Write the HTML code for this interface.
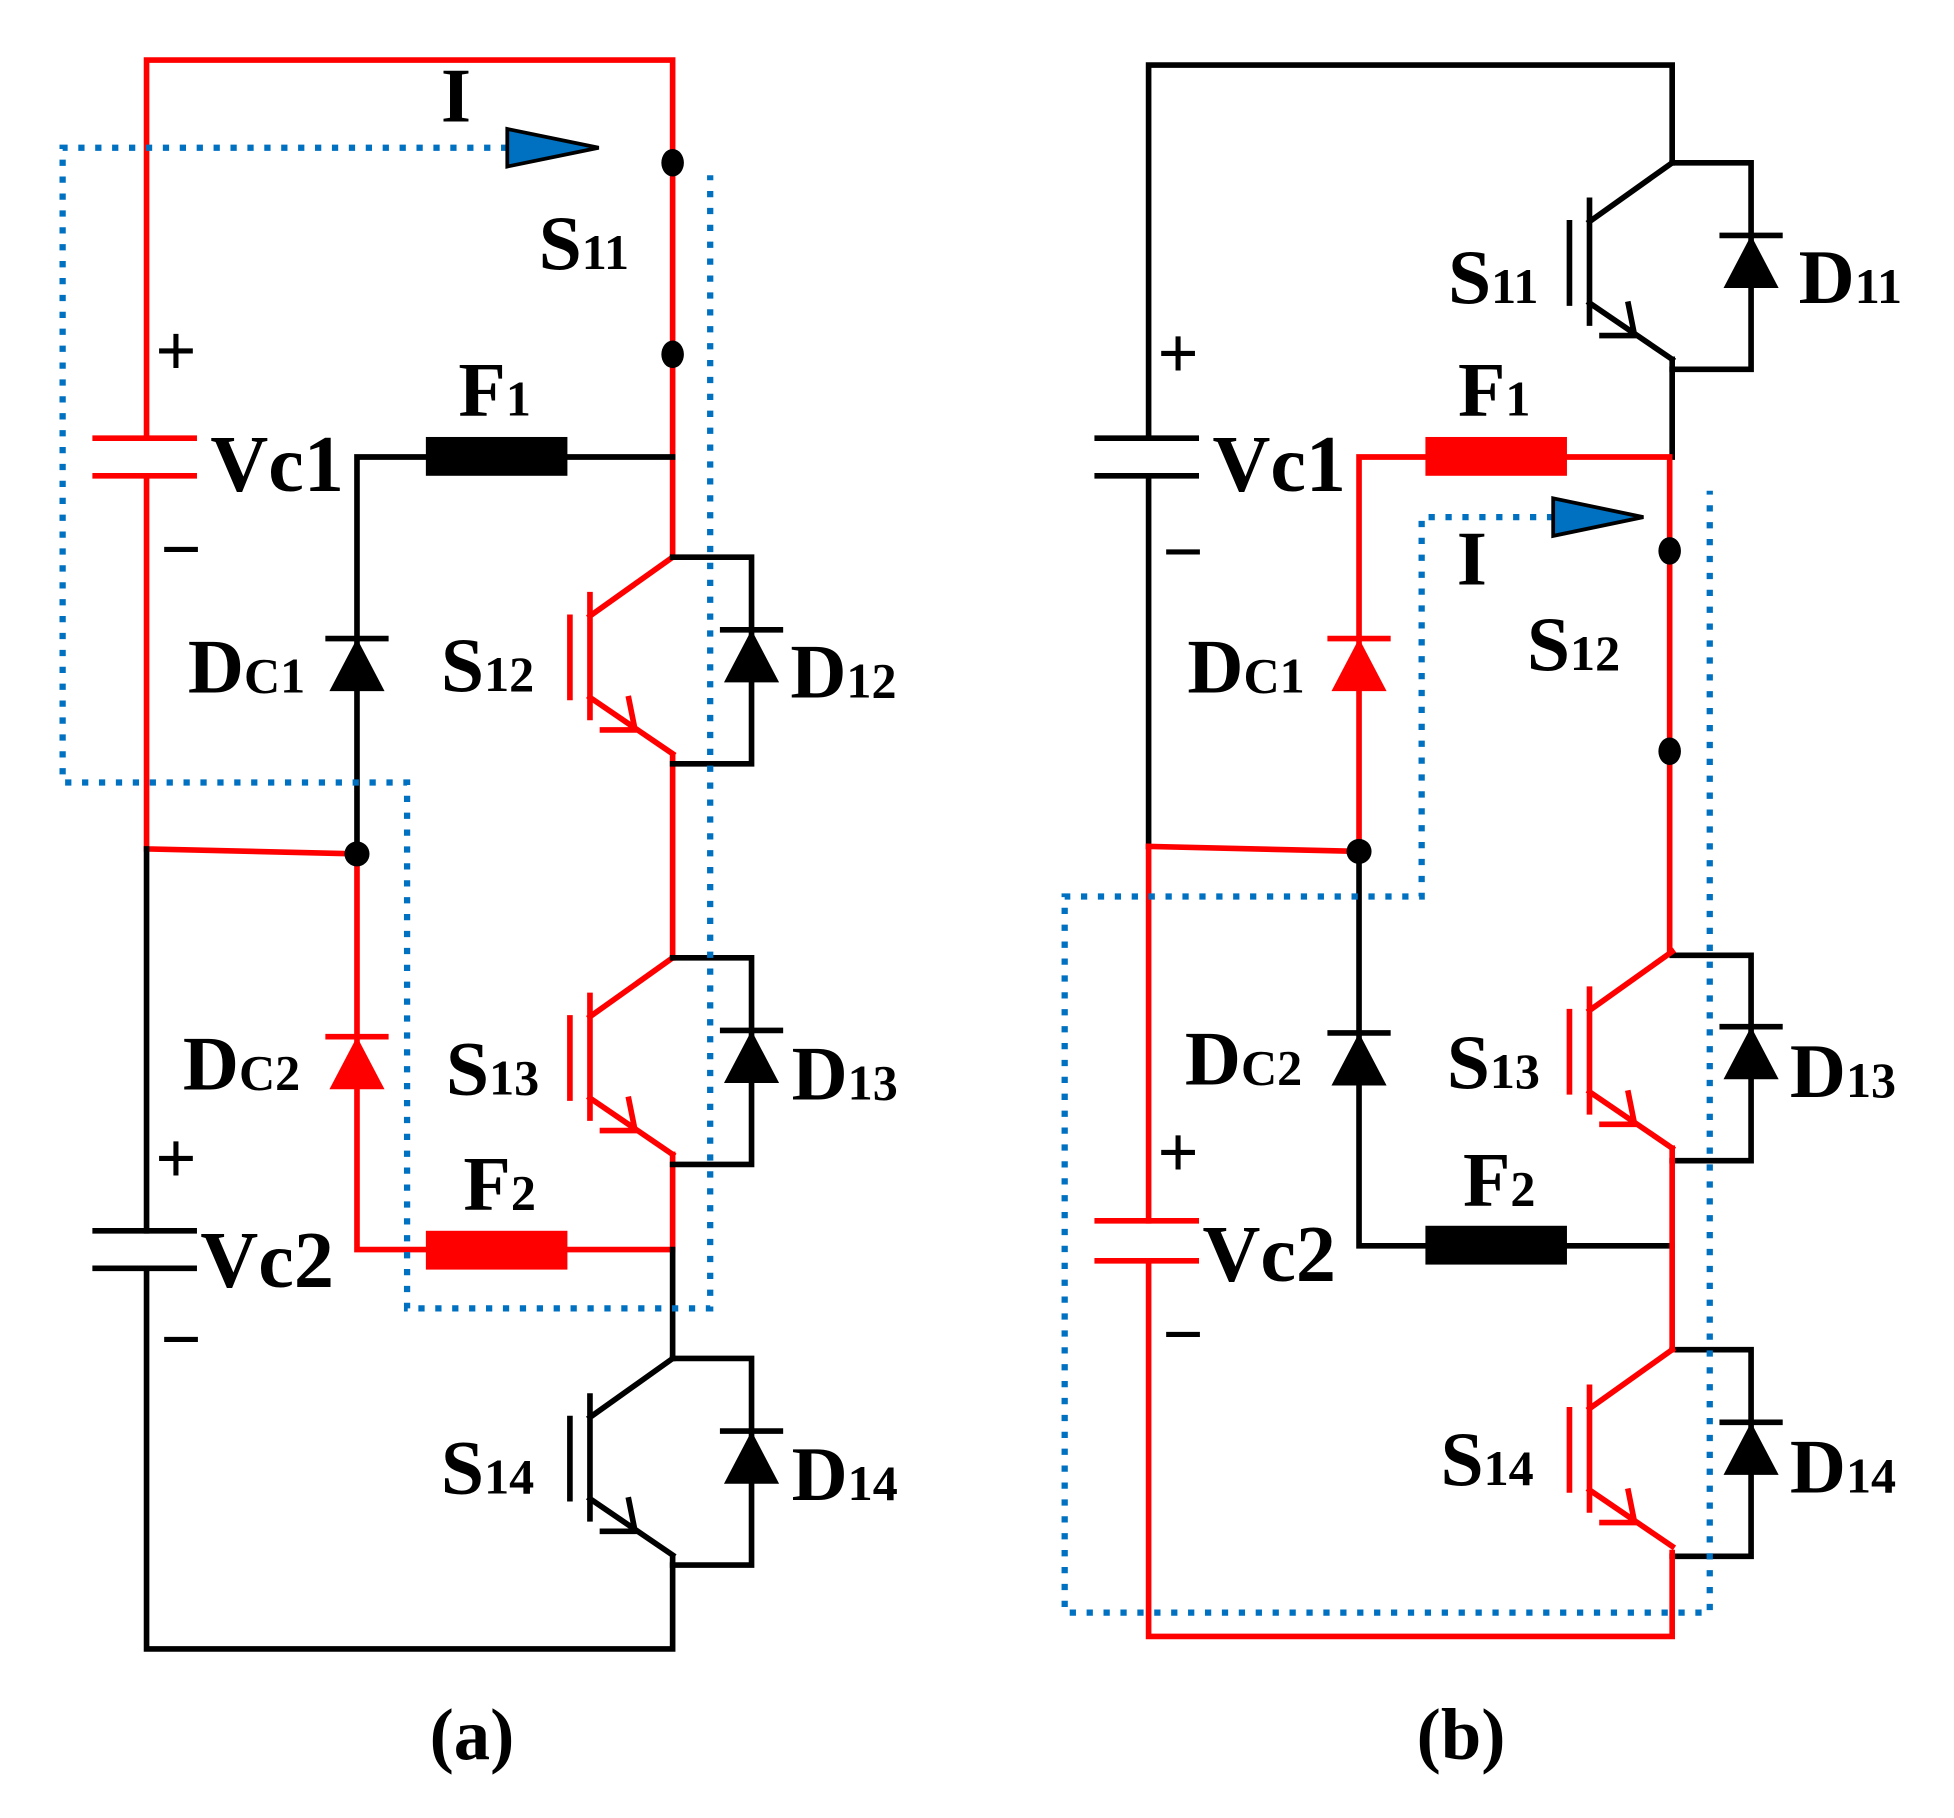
<!DOCTYPE html>
<html><head><meta charset="utf-8"><style>
html,body{margin:0;padding:0;background:#fff;}
svg{display:block;}
text{font-family:"Liberation Serif",serif;font-weight:bold;fill:#000;}
</style></head><body>
<svg width="1954" height="1818" viewBox="0 0 1560 1452" preserveAspectRatio="none" xmlns="http://www.w3.org/2000/svg">
<defs>
<g id="igbt" fill="none" stroke-width="4.5">
  <path d="M0,0 L-66,47 M-66,30 V128 M-82,48 V112 M-66,112 L0,157 M-56,138 L-30,138 L-35,113"/>
</g>
</defs>

<!-- ================= PANEL (a) ================= -->
<g stroke-linecap="square">
<g stroke="#ff0000" stroke-width="4.5" fill="none">
  <path d="M117,350 V48 H537 V445"/>
  <path d="M117,380 V678 L285,682"/>
  <path d="M76,350 H155 M76,380 H155"/>
  <path d="M285,682 V998 H537 M537,605 V765"/>
  <use href="#igbt" x="537" y="445" stroke="#ff0000"/>
  <use href="#igbt" x="537" y="765" stroke="#ff0000"/>
  <path d="M537,922 V998"/>
</g>
<g stroke="#000" stroke-width="4.5" fill="none">
  <path d="M117,678 V983 M117,1013 V1317 H537 V1245"/>
  <path d="M76,983 H155 M76,1013 H155"/>
  <path d="M285,682 V365 H537"/>
  <path d="M537,998 V1085"/>
  <use href="#igbt" x="537" y="1085" stroke="#000"/>
  <path d="M537,445 H600 V610 H537"/>
  <path d="M537,765 H600 V930 H537"/>
  <path d="M537,1085 H600 V1250 H537"/>
  <path d="M577,503 H623 M577,823 H623 M577,1143 H623 M262,510 H308"/>
  <path d="M262,828 H308" stroke="#ff0000"/>
</g>
</g>
<g stroke="none">
  <path d="M600,503 L578,545 L622,545 Z" fill="#000"/>
  <path d="M600,823 L578,865 L622,865 Z" fill="#000"/>
  <path d="M600,1143 L578,1185 L622,1185 Z" fill="#000"/>
  <path d="M285,510 L263,552 L307,552 Z" fill="#000"/>
  <path d="M285,828 L263,870 L307,870 Z" fill="#ff0000"/>
  <rect x="340" y="349" width="113" height="31" fill="#000"/>
  <rect x="340" y="983" width="113" height="31" fill="#ff0000"/>
  <ellipse cx="537" cy="130" rx="9" ry="11" fill="#000"/>
  <ellipse cx="537" cy="283" rx="9" ry="11" fill="#000"/>
  <ellipse cx="285" cy="682" rx="10" ry="10" fill="#000"/>
</g>
<path d="M405,118 H50 V625 H325 V1045 H567 V140" fill="none" stroke="#0070c0" stroke-width="5" stroke-dasharray="5 8.5"/>
<path d="M405,103 L478,118 L405,133 Z" fill="#0070c0" stroke="#000" stroke-width="3"/>

<text x="352" y="97" font-size="62">I</text>
<text x="430" y="215" font-size="62">S<tspan font-size="40">11</tspan></text>
<text x="366" y="332" font-size="62">F<tspan font-size="40">1</tspan></text>
<text x="124" y="300" font-size="58">+</text>
<text x="128" y="458" font-size="58">−</text>
<text x="168" y="392" font-size="64">Vc1</text>
<text x="150" y="553" font-size="62">D<tspan font-size="40">C1</tspan></text>
<text x="352" y="552" font-size="62">S<tspan font-size="40">12</tspan></text>
<text x="631" y="557" font-size="62">D<tspan font-size="40">12</tspan></text>
<text x="146" y="870" font-size="62">D<tspan font-size="40">C2</tspan></text>
<text x="356" y="874" font-size="62">S<tspan font-size="40">13</tspan></text>
<text x="632" y="878" font-size="62">D<tspan font-size="40">13</tspan></text>
<text x="370" y="966" font-size="62">F<tspan font-size="40">2</tspan></text>
<text x="124" y="945" font-size="58">+</text>
<text x="160" y="1028" font-size="64">Vc2</text>
<text x="128" y="1089" font-size="58">−</text>
<text x="352" y="1193" font-size="62">S<tspan font-size="40">14</tspan></text>
<text x="632" y="1198" font-size="62">D<tspan font-size="40">14</tspan></text>
<text x="343" y="1405" font-size="58" font-weight="normal">(<tspan font-weight="bold">a</tspan>)</text>

<!-- ================= PANEL (b) ================= -->
<g stroke-linecap="square">
<g stroke="#000" stroke-width="4.5" fill="none">
  <path d="M917,350 V52 H1335 V130"/>
  <path d="M917,380 V676"/>
  <path d="M876,350 H955 M876,380 H955"/>
  <use href="#igbt" x="1335" y="130" stroke="#000"/>
  <path d="M1335,287 V365"/>
  <path d="M1335,130 H1398 V295 H1335"/>
  <path d="M1335,763 H1398 V927 H1335"/>
  <path d="M1335,1078 H1398 V1243 H1335"/>
  <path d="M1085,680 V995 H1335"/>
  <path d="M1375,188 H1421 M1375,820 H1421 M1375,1136 H1421 M1062,825 H1108"/>
</g>
<g stroke="#ff0000" stroke-width="4.5" fill="none">
  <path d="M1085,680 V365 H1333 V760"/>
  <path d="M917,676 L1085,680"/>
  <path d="M917,676 V975 M917,1007 V1307 H1335 V1240"/>
  <path d="M876,975 H955 M876,1007 H955"/>
  <use href="#igbt" x="1335" y="760" stroke="#ff0000"/>
  <path d="M1335,917 V1078"/>
  <use href="#igbt" x="1335" y="1078" stroke="#ff0000"/>
  <path d="M1062,510 H1108"/>
</g>
</g>
<g stroke="none">
  <path d="M1398,188 L1376,230 L1420,230 Z" fill="#000"/>
  <path d="M1398,820 L1376,862 L1420,862 Z" fill="#000"/>
  <path d="M1398,1136 L1376,1178 L1420,1178 Z" fill="#000"/>
  <path d="M1085,825 L1063,867 L1107,867 Z" fill="#000"/>
  <path d="M1085,510 L1063,552 L1107,552 Z" fill="#ff0000"/>
  <rect x="1138" y="349" width="113" height="31" fill="#ff0000"/>
  <rect x="1138" y="979" width="113" height="31" fill="#000"/>
  <ellipse cx="1333" cy="440" rx="9" ry="11" fill="#000"/>
  <ellipse cx="1333" cy="600" rx="9" ry="11" fill="#000"/>
  <ellipse cx="1085" cy="680" rx="10" ry="10" fill="#000"/>
</g>
<path d="M1240,413 H1135 V716 H850 V1288 H1365 V392" fill="none" stroke="#0070c0" stroke-width="5" stroke-dasharray="5 8.5"/>
<path d="M1240,398 L1312,413 L1240,428 Z" fill="#0070c0" stroke="#000" stroke-width="3"/>

<text x="1156" y="242" font-size="62">S<tspan font-size="40">11</tspan></text>
<text x="1436" y="242" font-size="62">D<tspan font-size="40">11</tspan></text>
<text x="1164" y="332" font-size="62">F<tspan font-size="40">1</tspan></text>
<text x="924" y="302" font-size="58">+</text>
<text x="928" y="460" font-size="58">−</text>
<text x="968" y="392" font-size="64">Vc1</text>
<text x="1163" y="467" font-size="62">I</text>
<text x="1219" y="535" font-size="62">S<tspan font-size="40">12</tspan></text>
<text x="948" y="553" font-size="62">D<tspan font-size="40">C1</tspan></text>
<text x="946" y="866" font-size="62">D<tspan font-size="40">C2</tspan></text>
<text x="1155" y="869" font-size="62">S<tspan font-size="40">13</tspan></text>
<text x="1429" y="876" font-size="62">D<tspan font-size="40">13</tspan></text>
<text x="1168" y="963" font-size="62">F<tspan font-size="40">2</tspan></text>
<text x="924" y="940" font-size="58">+</text>
<text x="960" y="1023" font-size="64">Vc2</text>
<text x="928" y="1085" font-size="58">−</text>
<text x="1150" y="1186" font-size="62">S<tspan font-size="40">14</tspan></text>
<text x="1429" y="1192" font-size="62">D<tspan font-size="40">14</tspan></text>
<text x="1131" y="1405" font-size="58" font-weight="normal">(<tspan font-weight="bold">b</tspan>)</text>
</svg>
</body></html>
